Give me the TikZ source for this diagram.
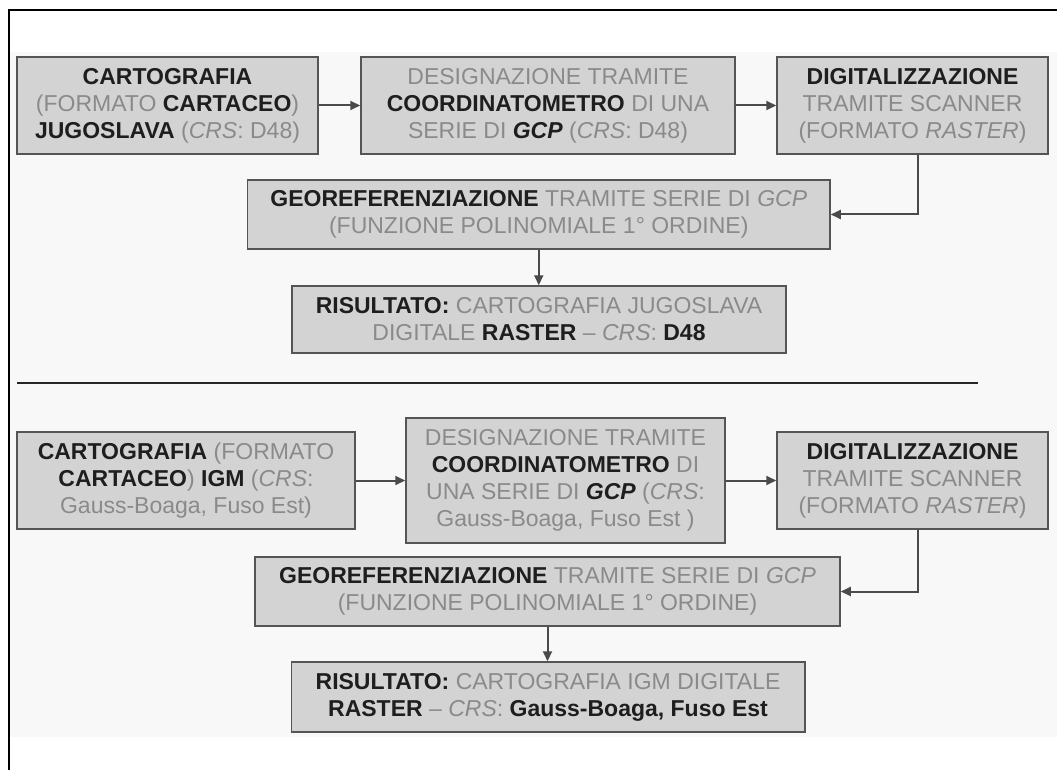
\documentclass[tikz,border=0pt]{standalone}
\usepackage{fontspec}
\setmainfont{Liberation Sans}
\usetikzlibrary{arrows.meta}
\definecolor{txtgray}{HTML}{8A8A8A}
\definecolor{boxfill}{HTML}{D3D3D3}
\definecolor{boxline}{HTML}{555555}
\definecolor{bgfill}{HTML}{F8F8F8}
\definecolor{arrcol}{HTML}{4A4A4A}
\definecolor{darktxt}{HTML}{1E1E1E}
\newcommand{\grtx}[1]{\textcolor{txtgray}{#1}}
\newcommand{\bdtx}[1]{\textbf{#1}}
\begin{document}
\begin{tikzpicture}[x=1pt,y=-1pt,
  box/.style={draw=boxline, fill=boxfill, line width=1.5pt, align=center,
    inner sep=0pt, font=\fontsize{23}{27}\selectfont, text=darktxt},
  arr/.style={draw=arrcol, line width=2pt, -{Triangle[length=10pt,width=9pt]}},
  sep/.style={draw=black!85, line width=2pt}]
\useasboundingbox (0,0) rectangle (1057,770);
\fill[white] (0,0) rectangle (1057,770);
\fill[bgfill] (10,52) rectangle (1057,737);
\draw[line width=2pt] (9,770) -- (9,10) -- (1057,10);

% ---- top section ----
\node[box, minimum width=301pt, minimum height=97pt] (A1) at (167.5,105.5)
  {\bdtx{CARTOGRAFIA}\\ \grtx{(FORMATO} \bdtx{CARTACEO}\grtx{)}\\ \bdtx{JUGOSLAVA} \grtx{(\textit{CRS}: D48)}};
\node[box, minimum width=374pt, minimum height=97pt] (A2) at (548,105.5)
  {\grtx{DESIGNAZIONE TRAMITE}\\ \bdtx{COORDINATOMETRO} \grtx{DI UNA}\\ \grtx{SERIE DI} \bdtx{\textit{GCP}} \grtx{(\textit{CRS}: D48)}};
\node[box, minimum width=271pt, minimum height=97pt] (A3) at (912.5,105.5)
  {\bdtx{DIGITALIZZAZIONE}\\ \grtx{TRAMITE SCANNER}\\ \grtx{(FORMATO \textit{RASTER})}};
\node[box, minimum width=582.5pt, minimum height=69pt] (B1) at (538.75,214.5)
  {\bdtx{GEOREFERENZIAZIONE} \grtx{TRAMITE SERIE DI \textit{GCP}}\\ \grtx{(FUNZIONE POLINOMIALE 1° ORDINE)}};
\node[box, minimum width=494pt, minimum height=67pt] (C1) at (539,319.5)
  {\bdtx{RISULTATO:} \grtx{CARTOGRAFIA JUGOSLAVA}\\ \grtx{DIGITALE} \bdtx{RASTER} \grtx{– \textit{CRS}:} \bdtx{D48}};

\draw[arr] (A1) -- (A2);
\draw[arr] (A2) -- (A3);
\draw[arr] ([xshift=5.5pt]A3.south) |- (B1.east);
\draw[arr] (B1.south) -- (B1.south |- C1.north);

% ---- separator ----
\coordinate (s1) at (17,383);
\coordinate (s2) at (978,383);
\draw[sep] (s1) -- (s2);

% ---- bottom section ----
\node[box, minimum width=338pt, minimum height=97pt] (D1) at (186,480.5)
  {\bdtx{CARTOGRAFIA} \grtx{(FORMATO}\\ \bdtx{CARTACEO}\grtx{)} \bdtx{IGM} \grtx{(\textit{CRS}:}\\ \grtx{Gauss-Boaga, Fuso Est)}};
\node[box, minimum width=319pt, minimum height=125pt] (D2) at (565.5,480.5)
  {\grtx{DESIGNAZIONE TRAMITE}\\ \bdtx{COORDINATOMETRO} \grtx{DI}\\ \grtx{UNA SERIE DI} \bdtx{\textit{GCP}} \grtx{(\textit{CRS}:}\\ \grtx{Gauss-Boaga, Fuso Est )}};
\node[box, minimum width=271pt, minimum height=97pt] (D3) at (912.5,480.5)
  {\bdtx{DIGITALIZZAZIONE}\\ \grtx{TRAMITE SCANNER}\\ \grtx{(FORMATO \textit{RASTER})}};
\node[box, minimum width=585pt, minimum height=69pt] (E1) at (547.5,591.5)
  {\bdtx{GEOREFERENZIAZIONE} \grtx{TRAMITE SERIE DI \textit{GCP}}\\ \grtx{(FUNZIONE POLINOMIALE 1° ORDINE)}};
\node[box, minimum width=513.5pt, minimum height=70pt] (F1) at (548,697)
  {\bdtx{RISULTATO:} \grtx{CARTOGRAFIA IGM DIGITALE}\\ \bdtx{RASTER} \grtx{– \textit{CRS}:} \bdtx{Gauss-Boaga, Fuso Est}};

\draw[arr] (D1) -- (D2);
\draw[arr] (D2) -- (D3);
\draw[arr] ([xshift=5.5pt]D3.south) |- (E1.east);
\draw[arr] (E1.south) -- (E1.south |- F1.north);
\end{tikzpicture}
\end{document}
